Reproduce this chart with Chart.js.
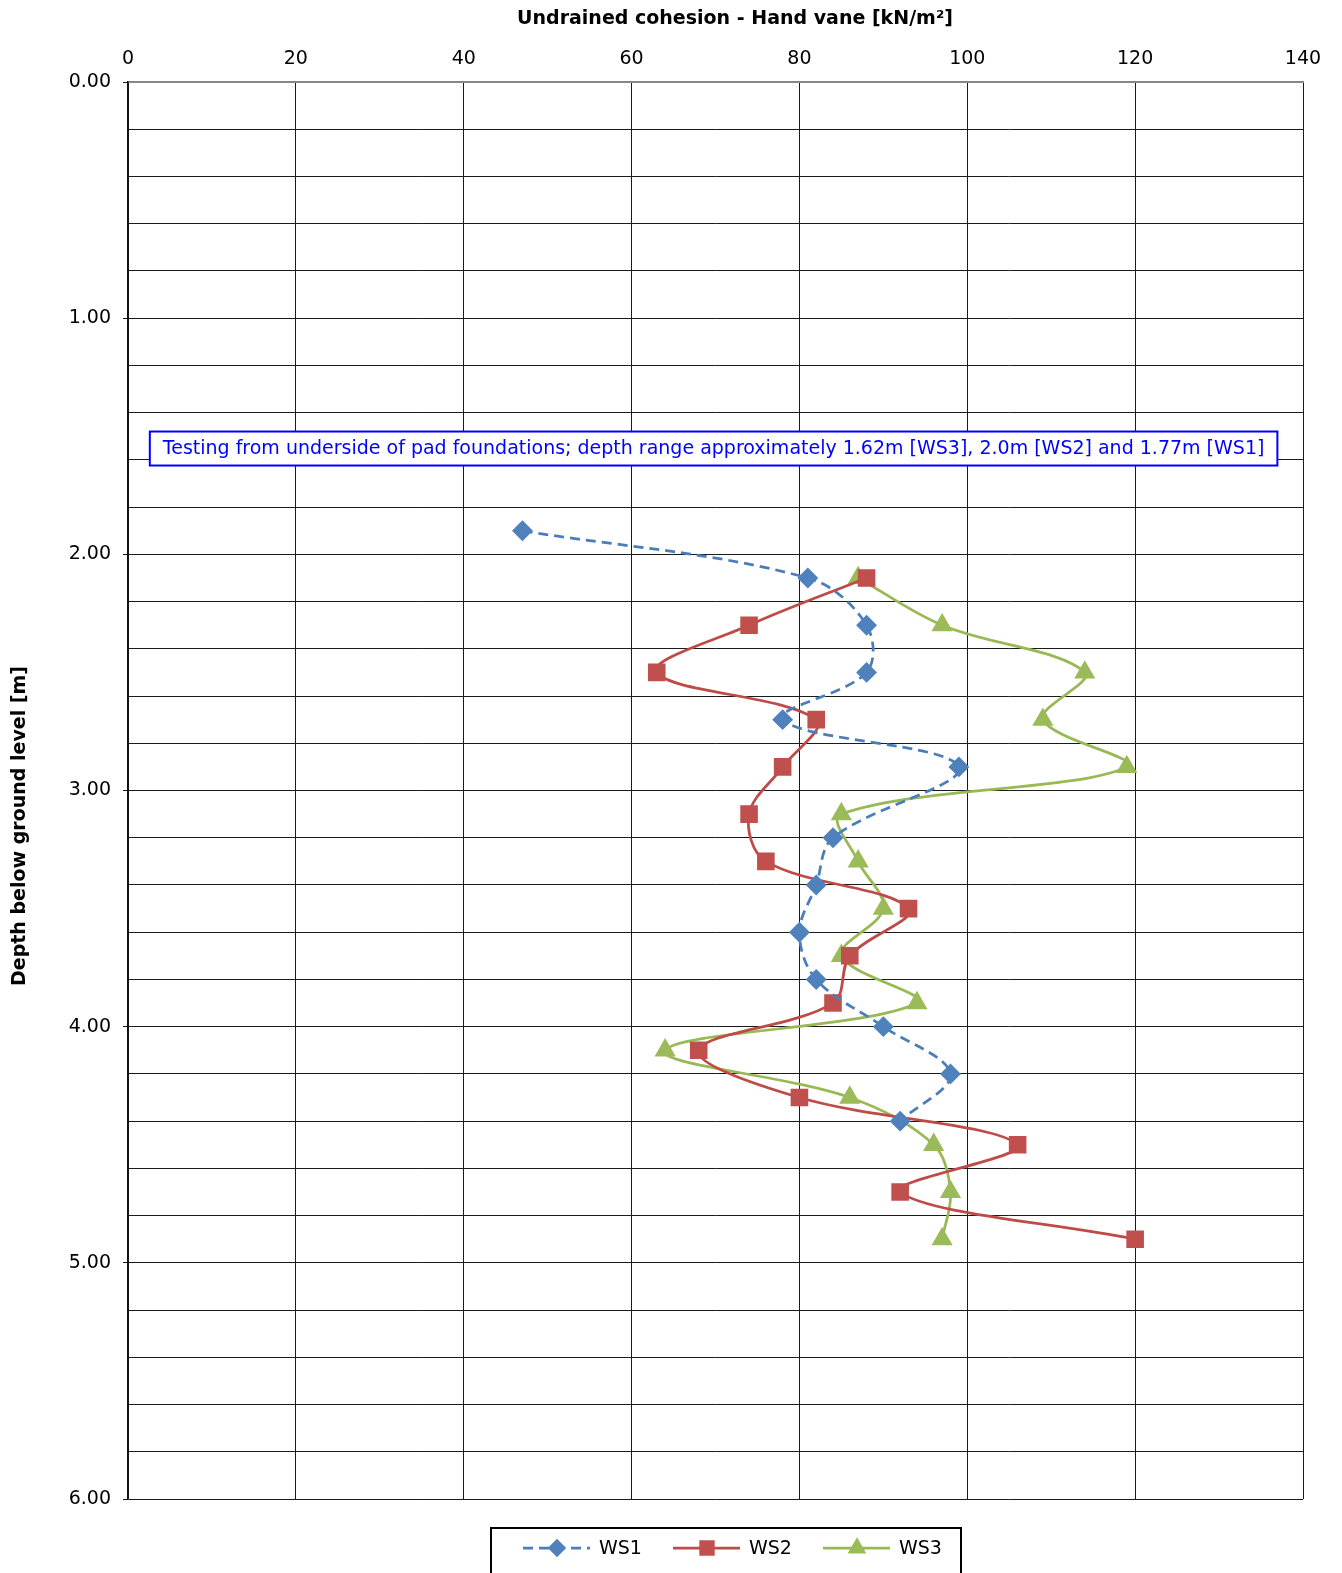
<!DOCTYPE html>
<html>
<head>
<meta charset="utf-8">
<script src="https://cdn.jsdelivr.net/npm/chart.js@4/dist/chart.umd.min.js"></script>
<style>
  html, body { margin: 0; padding: 0; background: #fff; }
  #wrap { width: 1342px; height: 1573px; }
</style>
</head>
<body>
<div id="wrap"><canvas id="vane"></canvas></div>
<script>
// depth below ground level [m]
var ws1Depth = [1.9, 2.1, 2.3, 2.5, 2.7, 2.9, 3.2, 3.4, 3.6, 3.8, 4.0, 4.2, 4.4];
var ws1Cu = [47, 81, 88, 88, 78, 99, 84, 82, 80, 82, 90, 98, 92];

var ws2Depth = [2.1, 2.3, 2.5, 2.7, 2.9, 3.1, 3.3, 3.5, 3.7, 3.9, 4.1, 4.3, 4.5, 4.7, 4.9];
var ws2Cu = [88, 74, 63, 82, 78, 74, 76, 93, 86, 84, 68, 80, 106, 92, 120];

var ws3Depth = [2.1, 2.3, 2.5, 2.7, 2.9, 3.1, 3.3, 3.5, 3.7, 3.9, 4.1, 4.3, 4.5, 4.7, 4.9];
var ws3Cu = [87, 97, 114, 109, 119, 85, 87, 90, 85, 94, 64, 86, 96, 98, 97];

var xTitle = "Undrained cohesion - Hand vane [kN/m²]";
var yTitle = "Depth below ground level [m]";
var note = "Testing from underside of pad foundations; depth range approximately 1.62m [WS3], 2.0m [WS2] and 1.77m [WS1]";

var FONT = "'DejaVu Sans', Verdana, sans-serif";

function pts(xs, ys) {
  return xs.map(function (v, i) { return { x: v, y: ys[i] }; });
}

function isMajor(v) {
  return Math.abs(v - Math.round(v)) < 1e-6;
}

// titles, note box and boxed legend
var extras = {
  id: "extras",
  afterDraw: function (chart) {
    var c = chart.ctx;
    var xs = chart.scales.x, ys = chart.scales.y;
    c.save();

    c.fillStyle = "#000";
    c.font = "bold 19px " + FONT;
    c.textAlign = "center";
    c.textBaseline = "middle";
    c.fillText(xTitle, 735, 19);
    c.save();
    c.translate(20, 826);
    c.rotate(-Math.PI / 2);
    c.fillText(yTitle, 0, 0);
    c.restore();

    // note box
    c.font = "19px " + FONT;
    var left = xs.getPixelForValue(2.6);
    var top = ys.getPixelForValue(1.48);
    var w = c.measureText(note).width + 26;
    var h = 34;
    c.fillStyle = "#fff";
    c.fillRect(left, top, w, h);
    c.strokeStyle = "#0000ff";
    c.lineWidth = 2;
    c.strokeRect(left, top, w, h);
    c.fillStyle = "#0000ff";
    c.textAlign = "left";
    c.fillText(note, left + 13, top + h / 2 + 1);

    // legend
    c.strokeStyle = "#000";
    c.lineWidth = 2;
    c.strokeRect(491, 1528, 470, 50);
    var cy = 1548;
    chart.data.datasets.forEach(function (ds, i) {
      var x0 = 523 + i * 150;
      c.strokeStyle = ds.borderColor;
      c.lineWidth = ds.borderWidth;
      c.setLineDash(ds.borderDash || []);
      c.beginPath();
      c.moveTo(x0, cy);
      c.lineTo(x0 + 67, cy);
      c.stroke();
      c.setLineDash([]);
      c.fillStyle = ds.pointBackgroundColor;
      c.strokeStyle = ds.pointBorderColor;
      Chart.helpers.drawPoint(c, {
        pointStyle: ds.pointStyle, radius: ds.pointRadius * 0.85, rotation: 0, borderWidth: 1
      }, x0 + 34, cy);
      c.fillStyle = "#000";
      c.font = "19px " + FONT;
      c.textAlign = "left";
      c.fillText(ds.label, x0 + 76, cy + 1);
    });
    c.restore();
  }
};

new Chart(document.getElementById("vane").getContext("2d"), {
  type: "scatter",
  data: {
    datasets: [
      {
        label: "WS1",
        data: pts(ws1Cu, ws1Depth),
        showLine: true,
        borderColor: "#4a7ebb",
        borderWidth: 2.75,
        borderDash: [10, 6],
        pointStyle: "rectRot",
        pointRadius: 8.5,
        pointBackgroundColor: "#4f81bd",
        pointBorderColor: "#4f81bd",
        tension: 0.35,
      },
      {
        label: "WS2",
        data: pts(ws2Cu, ws2Depth),
        showLine: true,
        borderColor: "#be4b48",
        borderWidth: 2.75,
        pointStyle: "rect",
        pointRadius: 10.5,
        pointBackgroundColor: "#c0504d",
        pointBorderColor: "#c0504d",
        tension: 0.35,
      },
      {
        label: "WS3",
        data: pts(ws3Cu, ws3Depth),
        showLine: true,
        borderColor: "#98b954",
        borderWidth: 2.75,
        pointStyle: "triangle",
        pointRadius: 9.5,
        pointBackgroundColor: "#9bbb59",
        pointBorderColor: "#9bbb59",
        tension: 0.35,
      },
    ],
  },
  options: {
    responsive: true,
    maintainAspectRatio: false,
    animation: false,
    layout: { padding: { left: 0, top: 0, right: 39, bottom: 74 } },
    scales: {
      x: {
        type: "linear",
        position: "top",
        min: 0,
        max: 140,
        ticks: { stepSize: 20, color: "#000", font: { family: FONT, size: 19 }, padding: 12 },
        grid: { color: "#1a1a1a", lineWidth: 1, drawTicks: false },
        border: { color: "#868686", width: 2 },
        afterFit: function (s) { s.height = 82; },
      },
      y: {
        type: "linear",
        reverse: true,
        min: 0,
        max: 6,
        ticks: {
          stepSize: 0.2,
          autoSkip: false,
          color: "#000",
          font: { family: FONT, size: 19 },
          padding: 12,
          callback: function (v) {
            return isMajor(v) ? Number(v).toFixed(2) : "";
          },
        },
        grid: {
          color: "#1a1a1a",
          lineWidth: 1,
          tickLength: 5,
          tickColor: function (ctx) {
            return ctx.tick && isMajor(ctx.tick.value) ? "#1a1a1a" : "rgba(0,0,0,0)";
          },
        },
        border: { color: "#111", width: 1.5 },
        afterFit: function (s) { s.width = 128; },
      },
    },
    plugins: {
      legend: { display: false },
      tooltip: { enabled: false },
    },
  },
  plugins: [extras],
});
</script>
</body>
</html>
